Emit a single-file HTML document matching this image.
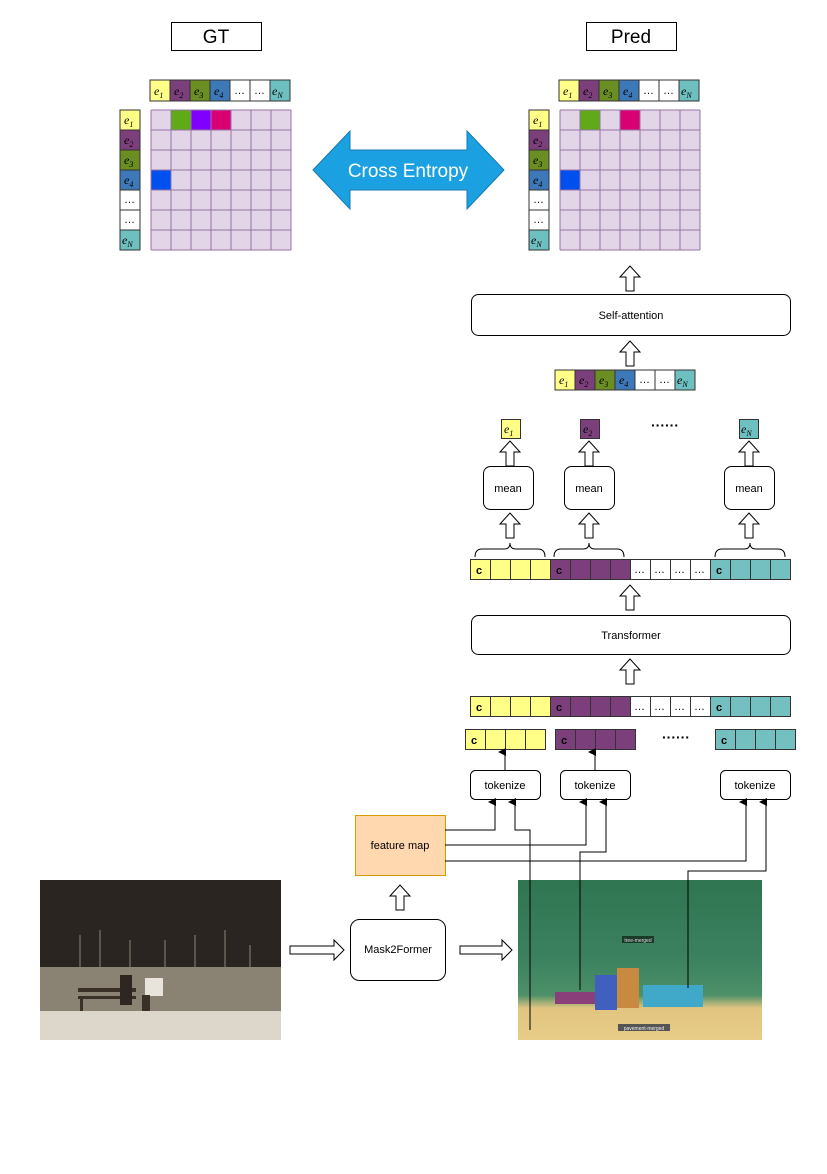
<!DOCTYPE html>
<html><head><meta charset="utf-8"><style>
html,body{margin:0;padding:0;background:#fff}
svg text{font-family:"Liberation Sans",sans-serif}
.m{font-family:"Liberation Serif",serif;font-style:italic;font-size:12px}
.s{font-size:8px}
.c{font-size:11px;font-weight:bold}
.d{font-size:11px}
</style></head><body>
<svg width="827" height="1169" viewBox="0 0 827 1169" xmlns="http://www.w3.org/2000/svg">
<defs>
<marker id="ah" markerWidth="8" markerHeight="8" refX="4" refY="7" orient="auto" markerUnits="userSpaceOnUse">
<path d="M0,8 L4,0 L8,8 Z" fill="#000"/></marker>
<g id="hup"><path d="M0,0 L10,-11 L20,0 L14,0 L14,14 L6,14 L6,0 Z" fill="#fff" stroke="#000" stroke-width="1"/></g>
<linearGradient id="lp" x1="0" y1="0" x2="0" y2="1">
<stop offset="0" stop-color="#221e1a"/><stop offset="0.35" stop-color="#2e2a24"/><stop offset="0.5" stop-color="#5a544a"/><stop offset="0.55" stop-color="#3a352e"/><stop offset="1" stop-color="#3a352e"/></linearGradient>
<linearGradient id="rp" x1="0" y1="0" x2="0" y2="1">
<stop offset="0" stop-color="#2f7552"/><stop offset="0.5" stop-color="#3c8260"/><stop offset="0.72" stop-color="#4d9068"/><stop offset="0.8" stop-color="#e0c480"/><stop offset="1" stop-color="#e8cd88"/></linearGradient>
</defs>

<rect x="171.5" y="22.5" width="90" height="28" fill="#fff" stroke="#000"/>
<text x="216" y="43" font-size="19" text-anchor="middle">GT</text>
<rect x="586.5" y="22.5" width="90" height="28" fill="#fff" stroke="#000"/>
<text x="631" y="43" font-size="19" text-anchor="middle">Pred</text>

<g transform="translate(150,80)" stroke="#333">
<rect x="0" y="0" width="20" height="21" fill="#ffff88"/><rect x="20" y="0" width="20" height="21" fill="#7b3f7b"/><rect x="40" y="0" width="20" height="21" fill="#6b8e23"/><rect x="60" y="0" width="20" height="21" fill="#3d78b8"/><rect x="80" y="0" width="20" height="21" fill="#fff"/><rect x="100" y="0" width="20" height="21" fill="#fff"/><rect x="120" y="0" width="20" height="21" fill="#6ec0c0"/>
</g>
<g>
<text class="m" x="154" y="95">e<tspan class="s" dy="3">1</tspan></text><text class="m" x="174" y="95">e<tspan class="s" dy="3">2</tspan></text><text class="m" x="194" y="95">e<tspan class="s" dy="3">3</tspan></text><text class="m" x="214" y="95">e<tspan class="s" dy="3">4</tspan></text><text x="234" y="94" class="d">…</text><text x="254" y="94" class="d">…</text><text class="m" x="272" y="95">e<tspan class="s" dy="3">N</tspan></text>
</g>
<g transform="translate(120,110)" stroke="#333">
<rect y="0" width="20" height="20" fill="#ffff88"/><rect y="20" width="20" height="20" fill="#7b3f7b"/><rect y="40" width="20" height="20" fill="#6b8e23"/><rect y="60" width="20" height="20" fill="#3d78b8"/><rect y="80" width="20" height="20" fill="#fff"/><rect y="100" width="20" height="20" fill="#fff"/><rect y="120" width="20" height="20" fill="#6ec0c0"/>
</g>
<g>
<text class="m" x="124" y="124">e<tspan class="s" dy="3">1</tspan></text><text class="m" x="124" y="144">e<tspan class="s" dy="3">2</tspan></text><text class="m" x="124" y="164">e<tspan class="s" dy="3">3</tspan></text><text class="m" x="124" y="184">e<tspan class="s" dy="3">4</tspan></text><text x="124" y="203" class="d">…</text><text x="124" y="223" class="d">…</text><text class="m" x="122" y="244">e<tspan class="s" dy="3">N</tspan></text>
</g>
<g transform="translate(151,110)">
<rect width="140" height="140" fill="#e1d5e7"/>
<rect x="20" y="0" width="20" height="20" fill="#60a917"/><rect x="40" y="0" width="20" height="20" fill="#7f00ff"/><rect x="60" y="0" width="20" height="20" fill="#d80073"/><rect x="0" y="60" width="20" height="20" fill="#0050ef"/>
<path d="M0,0H140M0,20H140M0,40H140M0,60H140M0,80H140M0,100H140M0,120H140M0,140H140M0,0V140M20,0V140M40,0V140M60,0V140M80,0V140M100,0V140M120,0V140M140,0V140" stroke="#9673a6" fill="none"/>
</g>

<g transform="translate(559,80)" stroke="#333">
<rect x="0" y="0" width="20" height="21" fill="#ffff88"/><rect x="20" y="0" width="20" height="21" fill="#7b3f7b"/><rect x="40" y="0" width="20" height="21" fill="#6b8e23"/><rect x="60" y="0" width="20" height="21" fill="#3d78b8"/><rect x="80" y="0" width="20" height="21" fill="#fff"/><rect x="100" y="0" width="20" height="21" fill="#fff"/><rect x="120" y="0" width="20" height="21" fill="#6ec0c0"/>
</g>
<g>
<text class="m" x="563" y="95">e<tspan class="s" dy="3">1</tspan></text><text class="m" x="583" y="95">e<tspan class="s" dy="3">2</tspan></text><text class="m" x="603" y="95">e<tspan class="s" dy="3">3</tspan></text><text class="m" x="623" y="95">e<tspan class="s" dy="3">4</tspan></text><text x="643" y="94" class="d">…</text><text x="663" y="94" class="d">…</text><text class="m" x="681" y="95">e<tspan class="s" dy="3">N</tspan></text>
</g>
<g transform="translate(529,110)" stroke="#333">
<rect y="0" width="20" height="20" fill="#ffff88"/><rect y="20" width="20" height="20" fill="#7b3f7b"/><rect y="40" width="20" height="20" fill="#6b8e23"/><rect y="60" width="20" height="20" fill="#3d78b8"/><rect y="80" width="20" height="20" fill="#fff"/><rect y="100" width="20" height="20" fill="#fff"/><rect y="120" width="20" height="20" fill="#6ec0c0"/>
</g>
<g>
<text class="m" x="533" y="124">e<tspan class="s" dy="3">1</tspan></text><text class="m" x="533" y="144">e<tspan class="s" dy="3">2</tspan></text><text class="m" x="533" y="164">e<tspan class="s" dy="3">3</tspan></text><text class="m" x="533" y="184">e<tspan class="s" dy="3">4</tspan></text><text x="533" y="203" class="d">…</text><text x="533" y="223" class="d">…</text><text class="m" x="531" y="244">e<tspan class="s" dy="3">N</tspan></text>
</g>
<g transform="translate(560,110)">
<rect width="140" height="140" fill="#e1d5e7"/>
<rect x="20" y="0" width="20" height="20" fill="#60a917"/><rect x="60" y="0" width="20" height="20" fill="#d80073"/><rect x="0" y="60" width="20" height="20" fill="#0050ef"/>
<path d="M0,0H140M0,20H140M0,40H140M0,60H140M0,80H140M0,100H140M0,120H140M0,140H140M0,0V140M20,0V140M40,0V140M60,0V140M80,0V140M100,0V140M120,0V140M140,0V140" stroke="#9673a6" fill="none"/>
</g>

<path d="M313,170 L350,131 L350,150 L467,150 L467,131 L504,170 L467,209 L467,190 L350,190 L350,209 Z" fill="#1ba1e2" stroke="#1779b0"/>
<text x="408" y="177" font-size="19" fill="#fff" text-anchor="middle">Cross Entropy</text>

<use href="#hup" x="620" y="277"/>
<rect x="471.5" y="294.5" width="319" height="41" rx="7" fill="#fff" stroke="#000"/>
<text x="631" y="319" font-size="11" text-anchor="middle">Self-attention</text>
<use href="#hup" x="620" y="352"/>

<g transform="translate(555,370)" stroke="#333">
<rect x="0" width="20" height="20" fill="#ffff88"/><rect x="20" width="20" height="20" fill="#7b3f7b"/><rect x="40" width="20" height="20" fill="#6b8e23"/><rect x="60" width="20" height="20" fill="#3d78b8"/><rect x="80" width="20" height="20" fill="#fff"/><rect x="100" width="20" height="20" fill="#fff"/><rect x="120" width="20" height="20" fill="#6ec0c0"/>
</g>
<g>
<text class="m" x="559" y="384">e<tspan class="s" dy="3">1</tspan></text><text class="m" x="579" y="384">e<tspan class="s" dy="3">2</tspan></text><text class="m" x="599" y="384">e<tspan class="s" dy="3">3</tspan></text><text class="m" x="619" y="384">e<tspan class="s" dy="3">4</tspan></text><text x="639" y="383" class="d">…</text><text x="659" y="383" class="d">…</text><text class="m" x="677" y="384">e<tspan class="s" dy="3">N</tspan></text>
</g>

<rect x="501.5" y="419.5" width="19" height="19" fill="#ffff88" stroke="#333"/><text class="m" x="504" y="433">e<tspan class="s" dy="3">1</tspan></text>
<rect x="580.5" y="419.5" width="19" height="19" fill="#7b3f7b" stroke="#333"/><text class="m" x="583" y="433">e<tspan class="s" dy="3">2</tspan></text>
<rect x="739.5" y="419.5" width="19" height="19" fill="#6ec0c0" stroke="#333"/><text class="m" x="741" y="433">e<tspan class="s" dy="3">N</tspan></text>
<text x="665" y="430" font-size="14" text-anchor="middle" font-weight="bold">······</text>

<use href="#hup" x="500" y="452"/><use href="#hup" x="579" y="452"/><use href="#hup" x="739" y="452"/>
<rect x="483.5" y="466.5" width="50" height="43" rx="7" fill="#fff" stroke="#000"/><text x="508" y="492" font-size="11" text-anchor="middle">mean</text>
<rect x="564.5" y="466.5" width="50" height="43" rx="7" fill="#fff" stroke="#000"/><text x="589" y="492" font-size="11" text-anchor="middle">mean</text>
<rect x="724.5" y="466.5" width="50" height="43" rx="7" fill="#fff" stroke="#000"/><text x="749" y="492" font-size="11" text-anchor="middle">mean</text>
<use href="#hup" x="500" y="524"/><use href="#hup" x="579" y="524"/><use href="#hup" x="739" y="524"/>

<g fill="none" stroke="#000">
<path d="M475,557 Q475,549 482,549 L504,549 Q510,549 510,543 Q510,549 516,549 L538,549 Q545,549 545,557"/>
<path d="M554,557 Q554,549 561,549 L583,549 Q589,549 589,543 Q589,549 595,549 L617,549 Q624,549 624,557"/>
<path d="M715,557 Q715,549 722,549 L744,549 Q750,549 750,543 Q750,549 756,549 L778,549 Q785,549 785,557"/>
</g>

<g id="row" stroke="#333">
<rect x="470.5" y="559.5" width="20" height="20" fill="#ffff88"/><rect x="490.5" y="559.5" width="20" height="20" fill="#ffff88"/><rect x="510.5" y="559.5" width="20" height="20" fill="#ffff88"/><rect x="530.5" y="559.5" width="20" height="20" fill="#ffff88"/>
<rect x="550.5" y="559.5" width="20" height="20" fill="#7b3f7b"/><rect x="570.5" y="559.5" width="20" height="20" fill="#7b3f7b"/><rect x="590.5" y="559.5" width="20" height="20" fill="#7b3f7b"/><rect x="610.5" y="559.5" width="20" height="20" fill="#7b3f7b"/>
<rect x="630.5" y="559.5" width="20" height="20" fill="#fff"/><rect x="650.5" y="559.5" width="20" height="20" fill="#fff"/><rect x="670.5" y="559.5" width="20" height="20" fill="#fff"/><rect x="690.5" y="559.5" width="20" height="20" fill="#fff"/>
<rect x="710.5" y="559.5" width="20" height="20" fill="#74bfc0"/><rect x="730.5" y="559.5" width="20" height="20" fill="#74bfc0"/><rect x="750.5" y="559.5" width="20" height="20" fill="#74bfc0"/><rect x="770.5" y="559.5" width="20" height="20" fill="#74bfc0"/>
<g stroke="none"><text class="c" x="476" y="574">c</text><text class="c" x="556" y="574">c</text><text class="c" x="716" y="574">c</text>
<text class="d" x="634" y="573">…</text><text class="d" x="654" y="573">…</text><text class="d" x="674" y="573">…</text><text class="d" x="694" y="573">…</text></g>
</g>
<use href="#hup" x="620" y="596"/>
<rect x="471.5" y="615.5" width="319" height="39" rx="7" fill="#fff" stroke="#000"/>
<text x="631" y="639" font-size="11" text-anchor="middle">Transformer</text>
<use href="#hup" x="620" y="670"/>
<use href="#row" y="137"/>

<g stroke="#333">
<rect x="465.5" y="729.5" width="20" height="20" fill="#ffff88"/><rect x="485.5" y="729.5" width="20" height="20" fill="#ffff88"/><rect x="505.5" y="729.5" width="20" height="20" fill="#ffff88"/><rect x="525.5" y="729.5" width="20" height="20" fill="#ffff88"/>
<rect x="555.5" y="729.5" width="20" height="20" fill="#7b3f7b"/><rect x="575.5" y="729.5" width="20" height="20" fill="#7b3f7b"/><rect x="595.5" y="729.5" width="20" height="20" fill="#7b3f7b"/><rect x="615.5" y="729.5" width="20" height="20" fill="#7b3f7b"/>
<rect x="715.5" y="729.5" width="20" height="20" fill="#74bfc0"/><rect x="735.5" y="729.5" width="20" height="20" fill="#74bfc0"/><rect x="755.5" y="729.5" width="20" height="20" fill="#74bfc0"/><rect x="775.5" y="729.5" width="20" height="20" fill="#74bfc0"/>
</g>
<text class="c" x="471" y="744">c</text><text class="c" x="561" y="744">c</text><text class="c" x="721" y="744">c</text>
<text x="676" y="742" font-size="14" text-anchor="middle" font-weight="bold">······</text>

<g fill="none" stroke="#000">
<line x1="505" y1="770" x2="505" y2="752" marker-end="url(#ah)"/>
<line x1="595" y1="770" x2="595" y2="752" marker-end="url(#ah)"/>
</g>
<rect x="470.5" y="770.5" width="70" height="29" rx="5" fill="#fff" stroke="#000"/><text x="505" y="789" font-size="11" text-anchor="middle">tokenize</text>
<rect x="560.5" y="770.5" width="70" height="29" rx="5" fill="#fff" stroke="#000"/><text x="595" y="789" font-size="11" text-anchor="middle">tokenize</text>
<rect x="720.5" y="770.5" width="70" height="29" rx="5" fill="#fff" stroke="#000"/><text x="755" y="789" font-size="11" text-anchor="middle">tokenize</text>

<!-- left photo -->
<rect x="40" y="880" width="241" height="160" fill="#2a2520"/>
<g stroke="#6a6256" stroke-width="2" opacity="0.8">
<line x1="80" y1="935" x2="80" y2="968"/><line x1="100" y1="930" x2="100" y2="968"/><line x1="130" y1="940" x2="130" y2="968"/><line x1="165" y1="940" x2="165" y2="968"/><line x1="195" y1="935" x2="195" y2="968"/><line x1="225" y1="930" x2="225" y2="968"/><line x1="250" y1="945" x2="250" y2="968"/>
</g>
<rect x="40" y="967" width="241" height="44" fill="#8a8272"/>
<rect x="40" y="1011" width="241" height="29" fill="#ddd6ca"/>
<rect x="78" y="988" width="58" height="4" fill="#3a3028"/><rect x="78" y="996" width="58" height="3" fill="#3a3028"/><rect x="80" y="999" width="3" height="12" fill="#3a3028"/>
<rect x="120" y="975" width="12" height="30" fill="#2e2620"/><rect x="145" y="978" width="18" height="18" fill="#e8e4dc"/><rect x="142" y="995" width="8" height="16" fill="#3a3028"/>

<!-- right photo -->
<rect x="518" y="880" width="244" height="160" fill="url(#rp)"/>
<rect x="555" y="992" width="40" height="12" fill="#8a3f7a"/><rect x="595" y="975" width="22" height="35" fill="#4060c0"/><rect x="617" y="968" width="22" height="40" fill="#c88a40"/><rect x="643" y="985" width="60" height="22" fill="#40a8c8"/>
<rect x="622" y="936" width="32" height="7" fill="#1a3a2a"/><text x="638" y="942" font-size="5" fill="#ddd" text-anchor="middle">tree-merged</text>
<rect x="618" y="1024" width="52" height="7" fill="#555"/><text x="644" y="1030" font-size="5" fill="#eee" text-anchor="middle">pavement-merged</text>

<rect x="355.5" y="815.5" width="90" height="60" fill="#ffd8b0" stroke="#d79b00"/>
<text x="400" y="849" font-size="11" text-anchor="middle">feature map</text>
<rect x="350.5" y="919.5" width="95" height="61" rx="9" fill="#fff" stroke="#000"/>
<text x="398" y="953" font-size="11" text-anchor="middle">Mask2Former</text>
<use href="#hup" x="390" y="896"/>
<path d="M290,946 L334,946 L334,940 L344,950 L334,960 L334,954 L290,954 Z" fill="#fff" stroke="#000"/>
<path d="M460,946 L502,946 L502,940 L512,950 L502,960 L502,954 L460,954 Z" fill="#fff" stroke="#000"/>

<g fill="none" stroke="#000">
<polyline points="445,830 495,830 495,802" marker-end="url(#ah)"/>
<polyline points="445,845 586,845 586,802" marker-end="url(#ah)"/>
<polyline points="445,861 746,861 746,802" marker-end="url(#ah)"/>
<polyline points="530,1030 530,830 515,830 515,802" marker-end="url(#ah)"/>
<polyline points="580,990 580,852 606,852 606,802" marker-end="url(#ah)"/>
<polyline points="688,988 688,871 766,871 766,802" marker-end="url(#ah)"/>
</g>
</svg>
</body></html>
